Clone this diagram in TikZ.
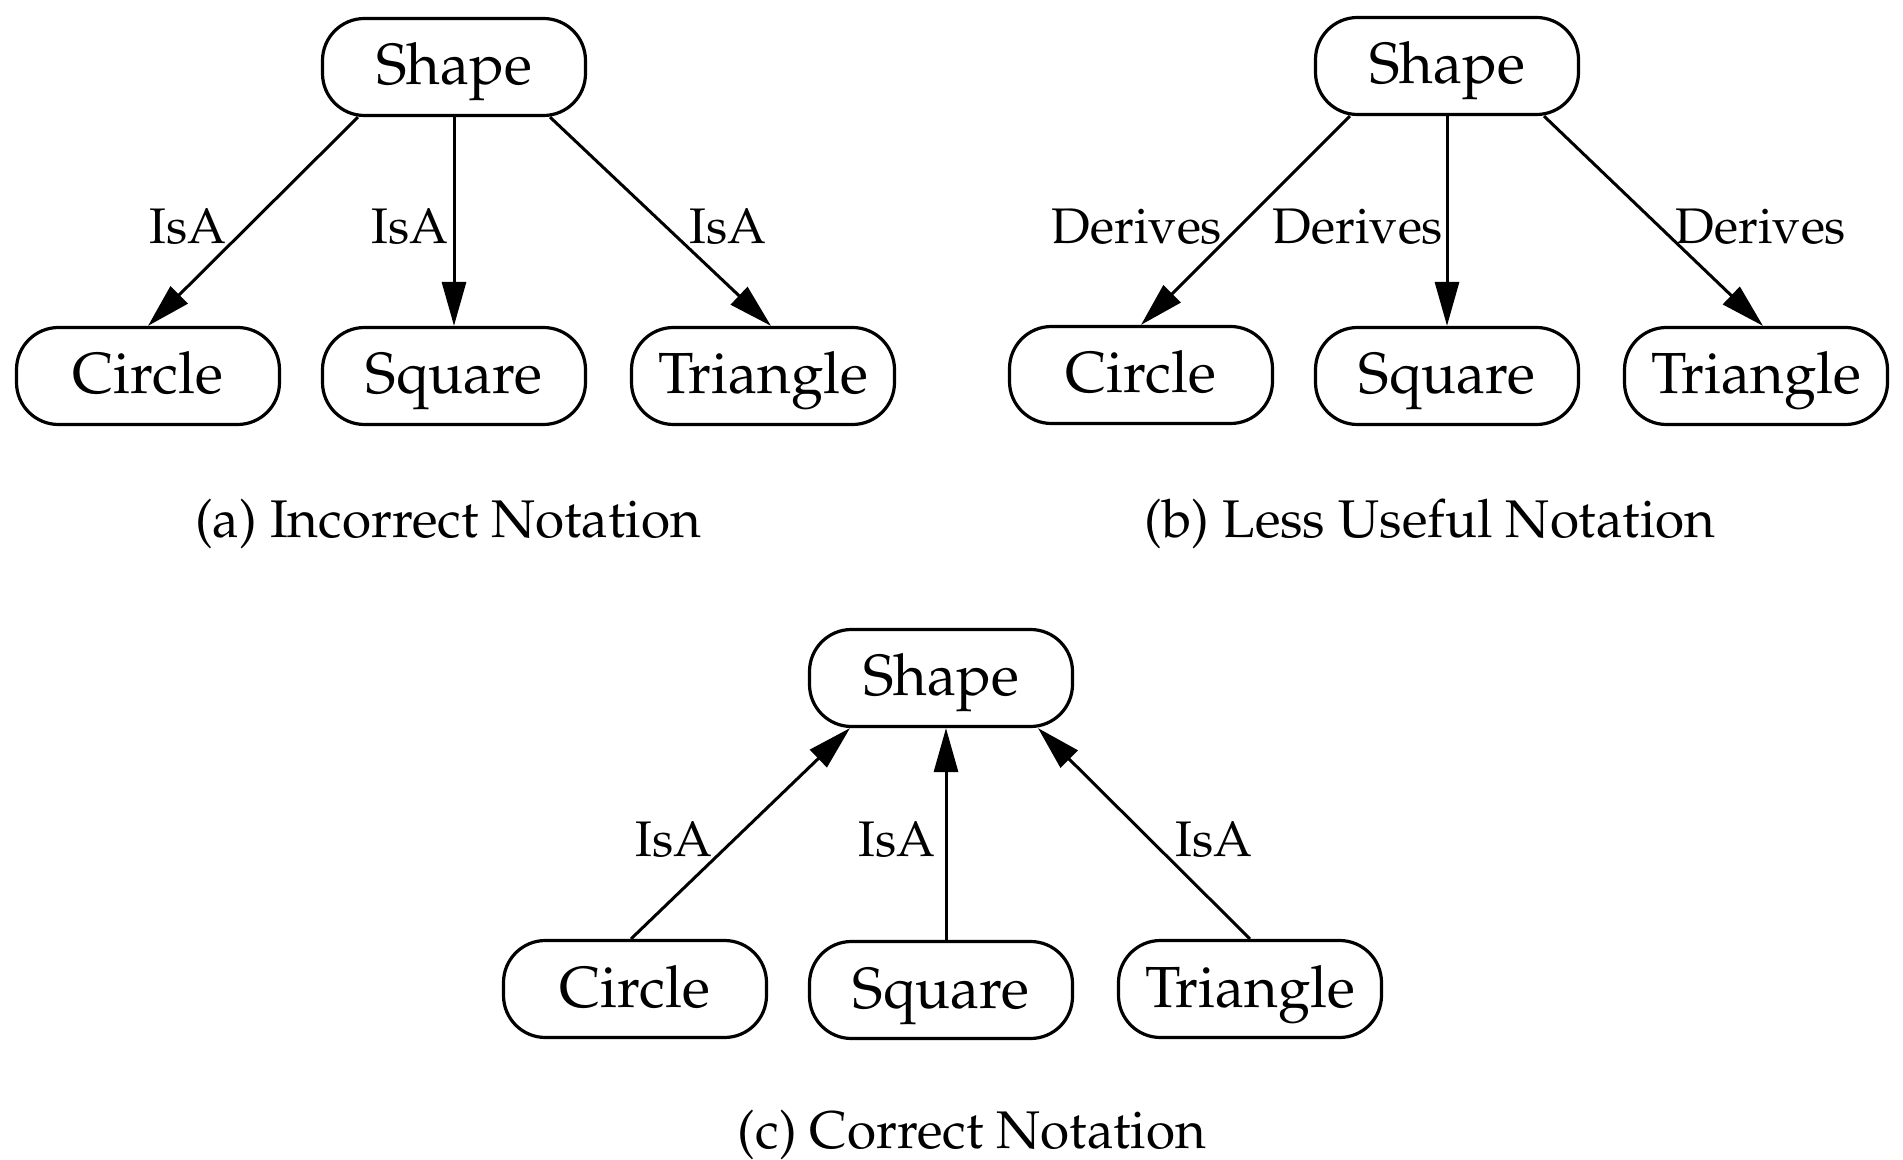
\documentclass[tikz,border=0pt]{standalone}
\usepackage[T1]{fontenc}
\renewcommand{\rmdefault}{ppl}
\usetikzlibrary{arrows.meta,calc}
\tikzset{
  cls/.style={draw, line width=1.6pt, rounded corners=21pt, minimum width=131.5pt, minimum height=48.5pt, inner sep=0pt, text height=24pt, text depth=6pt, font=\fontsize{29}{34}\selectfont},
  rel/.style={line width=1.5pt, -{Triangle[length=22pt,width=12pt]}},
  lbl/.style={inner sep=0pt, font=\fontsize{25}{30}\selectfont},
  captext/.style={inner sep=0pt, font=\fontsize{26.5}{32}\selectfont}
}
\begin{document}
\begin{tikzpicture}[x=0.5pt,y=-0.5pt]
\useasboundingbox (0,0) rectangle (1903,1160);
% (a)
\node[cls] (sa) at (454,67) {Shape};
\node[cls] (ca) at (148,376) {Circle};
\node[cls] (qa) at (454,376) {Square};
\node[cls] (ta) at (763,376) {Triangle};
\draw[rel] ($(sa.south)+(-96,0)$) -- (ca.north);
\draw[rel] (sa.south) -- (qa.north);
\draw[rel] ($(sa.south)+(96,0)$) -- ($(ta.north)+(8,0)$);
\node[lbl] (la1) at (188,227) {IsA};
\node[lbl] (la2) at (410,227) {IsA};
\node[lbl] (la3) at (728,227) {IsA};
\node[captext] (capa) at (448,524) {(a) Incorrect Notation};
% (b)
\node[cls] (sb) at (1447,66) {Shape};
\node[cls] (cb) at (1141,375) {Circle};
\node[cls] (qb) at (1447,376) {Square};
\node[cls] (tb) at (1756,376) {Triangle};
\draw[rel] ($(sb.south)+(-97,0)$) -- (cb.north);
\draw[rel] (sb.south) -- (qb.north);
\draw[rel] ($(sb.south)+(97,0)$) -- ($(tb.north)+(7,0)$);
\node[lbl] (lb1) at (1137,227) {Derives};
\node[lbl] (lb2) at (1358,227) {Derives};
\node[lbl] (lb3) at (1761,227) {Derives};
\node[captext] (capb) at (1430,524) {(b) Less Useful Notation};
% (c)
\node[cls] (sc) at (941,678) {Shape};
\node[cls] (cc) at (635,989) {Circle};
\node[cls] (qc) at (941,990) {Square};
\node[cls] (tc) at (1250,989) {Triangle};
\draw[rel] ($(cc.north)+(-4,0)$) -- ($(sc.south)+(-91,0)$);
\draw[rel] ($(qc.north)+(5,0)$) -- ($(sc.south)+(5,0)$);
\draw[rel] (tc.north) -- ($(sc.south)+(97,0)$);
\node[lbl] (lc1) at (674,840) {IsA};
\node[lbl] (lc2) at (897,840) {IsA};
\node[lbl] (lc3) at (1214,840) {IsA};
\node[captext] (capc) at (972,1135) {(c) Correct Notation};
\end{tikzpicture}
\end{document}
